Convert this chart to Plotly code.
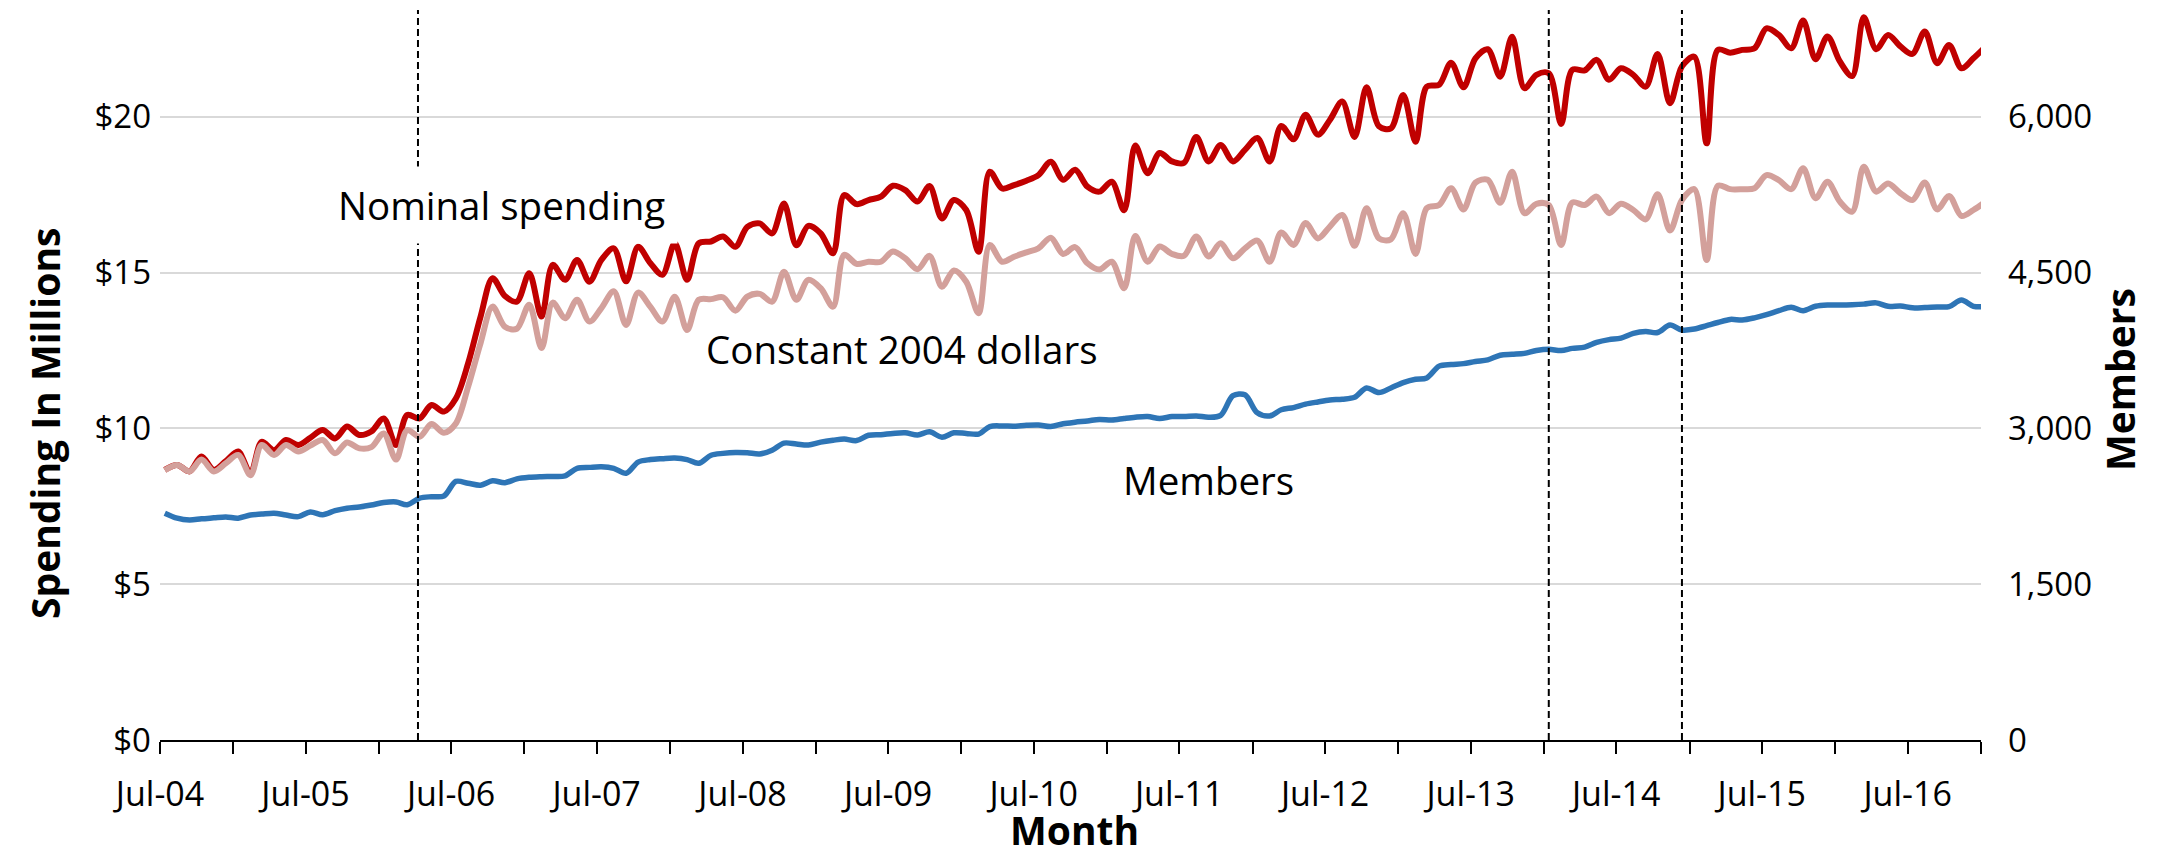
import plotly.graph_objects as go
import pandas as pd

#%% Data
# monthly points sit a little after the 1st of each month on the reference axis
months = pd.date_range("2004-07-01", periods=151, freq="MS") + pd.Timedelta(days=12)

nominal = [8.67, 8.83, 8.62, 9.10, 8.67, 8.95, 9.26, 8.56, 9.57, 9.30,
           9.63, 9.47, 9.70, 9.95, 9.68, 10.06, 9.79, 9.90, 10.32, 9.47,
           10.43, 10.32, 10.75, 10.54, 10.96, 12.10, 13.59, 14.82, 14.25, 14.07,
           14.98, 13.59, 15.25, 14.77, 15.41, 14.71, 15.41, 15.78, 14.72, 15.83,
           15.30, 14.93, 15.94, 14.77, 15.94, 16.00, 16.16, 15.83, 16.47, 16.58,
           16.26, 17.22, 15.88, 16.50, 16.26, 15.62, 17.49, 17.20, 17.33, 17.44,
           17.79, 17.65, 17.28, 17.78, 16.74, 17.33, 17.01, 15.67, 18.24, 17.70,
           17.81, 17.95, 18.13, 18.56, 17.98, 18.30, 17.76, 17.60, 17.92, 17.00,
           19.08, 18.19, 18.84, 18.57, 18.52, 19.35, 18.57, 19.10, 18.57, 18.94,
           19.32, 18.57, 19.71, 19.28, 20.07, 19.43, 19.90, 20.49, 19.35, 20.95,
           19.70, 19.63, 20.70, 19.20, 20.97, 21.03, 21.74, 20.95, 21.88, 22.17,
           21.29, 22.57, 20.92, 21.35, 21.40, 19.77, 21.51, 21.49, 21.83, 21.19,
           21.56, 21.35, 20.97, 22.02, 20.44, 21.62, 21.93, 19.15, 22.15, 22.06,
           22.15, 22.20, 22.84, 22.63, 22.20, 23.09, 21.85, 22.58, 21.78, 21.31,
           23.20, 22.17, 22.63, 22.26, 22.02, 22.74, 21.72, 22.31, 21.56, 21.88,
           22.26]

constant_2004 = [8.66, 8.83, 8.62, 9.00, 8.62, 8.88, 9.15, 8.50, 9.47, 9.15,
                 9.47, 9.26, 9.45, 9.63, 9.20, 9.55, 9.36, 9.40, 9.84, 9.00,
                 9.95, 9.73, 10.14, 9.86, 10.16, 11.35, 12.74, 13.91, 13.26, 13.20,
                 13.97, 12.58, 14.04, 13.54, 14.13, 13.43, 13.86, 14.40, 13.32, 14.36,
                 13.90, 13.43, 14.23, 13.16, 14.13, 14.15, 14.21, 13.78, 14.23, 14.32,
                 14.07, 15.03, 14.13, 14.77, 14.50, 13.91, 15.57, 15.28, 15.35, 15.35,
                 15.68, 15.46, 15.11, 15.54, 14.55, 15.07, 14.71, 13.70, 15.89, 15.35,
                 15.51, 15.65, 15.78, 16.12, 15.60, 15.82, 15.30, 15.10, 15.35, 14.50,
                 16.18, 15.35, 15.84, 15.60, 15.54, 16.16, 15.52, 15.94, 15.46, 15.78,
                 16.03, 15.35, 16.29, 15.89, 16.59, 16.10, 16.48, 16.85, 15.86, 17.07,
                 16.10, 16.07, 16.91, 15.60, 17.07, 17.17, 17.71, 17.03, 17.89, 17.98,
                 17.24, 18.24, 16.91, 17.21, 17.17, 15.89, 17.25, 17.17, 17.44, 16.91,
                 17.21, 17.01, 16.71, 17.52, 16.35, 17.33, 17.68, 15.41, 17.79, 17.68,
                 17.68, 17.71, 18.13, 17.97, 17.68, 18.35, 17.39, 17.92, 17.28, 16.96,
                 18.40, 17.60, 17.86, 17.55, 17.33, 17.89, 17.03, 17.46, 16.82, 17.01,
                 17.28]

members = [2184, 2136, 2118, 2130, 2139, 2148, 2136, 2166, 2175, 2184,
           2166, 2151, 2196, 2169, 2208, 2232, 2244, 2262, 2286, 2292,
           2265, 2328, 2343, 2349, 2490, 2472, 2454, 2496, 2478, 2514,
           2529, 2535, 2538, 2544, 2616, 2625, 2631, 2616, 2568, 2676,
           2700, 2709, 2715, 2700, 2664, 2742, 2760, 2769, 2766, 2754,
           2790, 2859, 2850, 2841, 2868, 2886, 2898, 2883, 2934, 2940,
           2952, 2958, 2937, 2967, 2916, 2958, 2952, 2946, 3018, 3024,
           3021, 3030, 3033, 3018, 3045, 3060, 3072, 3087, 3081, 3096,
           3108, 3114, 3096, 3114, 3114, 3120, 3108, 3126, 3315, 3324,
           3150, 3120, 3180, 3201, 3234, 3255, 3273, 3282, 3300, 3390,
           3345, 3390, 3441, 3474, 3486, 3600, 3615, 3624, 3645, 3660,
           3705, 3714, 3723, 3750, 3762, 3750, 3771, 3783, 3828, 3855,
           3870, 3915, 3933, 3924, 3996, 3948, 3957, 3990, 4020, 4050,
           4044, 4065, 4095, 4134, 4167, 4134, 4176, 4188, 4188, 4191,
           4197, 4209, 4176, 4179, 4161, 4164, 4170, 4173, 4236, 4176,
           4173]

event_dates = ["2006-04-09", "2014-01-13", "2014-12-13"]

tick_dates = pd.date_range("2004-07-01", "2016-07-01", freq="12MS")
tick_text = [d.strftime("%b-%y") for d in tick_dates]
left_ticks = [0, 5, 10, 15, 20]
left_text = ["$0", "$5", "$10", "$15", "$20"]
right_ticks = [0, 1500, 3000, 4500, 6000]
right_text = ["0", "1,500", "3,000", "4,500", "6,000"]

FONT = "Open Sans"

# plot area in page pixels (page body adds 8px offset)
PX0, PX1, PY0, PY1 = 160, 1981, 10, 740


def px(x):
    return (x - PX0) / (PX1 - PX0)


def py(y):
    return (PY1 - y) / (PY1 - PY0)


#%% Figure
fig = go.Figure()

fig.add_trace(go.Scatter(x=months, y=nominal, mode="lines", name="Nominal spending",
                         line=dict(color="#C00000", width=6, shape="spline", smoothing=0.9)))
fig.add_trace(go.Scatter(x=months, y=constant_2004, mode="lines", name="Constant 2004 dollars",
                         line=dict(color="#D3A09B", width=6, shape="spline", smoothing=0.9)))
fig.add_trace(go.Scatter(x=months, y=members, mode="lines", name="Members", yaxis="y2",
                         line=dict(color="#2E75B6", width=5.5, shape="spline", smoothing=0.9)))

#event markers
for d in event_dates:
    fig.add_shape(type="line", xref="x", yref="paper", x0=d, x1=d, y0=0, y1=1,
                  line=dict(color="black", width=2, dash="7px,4px"), layer="above")

#series labels
lab_font = dict(family=FONT, size=38.5, color="black")
fig.add_annotation(x=px(501), y=py(205), xref="paper", yref="paper", text="Nominal spending",
                   showarrow=False, bgcolor="white", borderpad=12,
                   xanchor="center", yanchor="middle", font=lab_font)
fig.add_annotation(x=px(902), y=py(349), xref="paper", yref="paper", text="Constant 2004 dollars",
                   showarrow=False, xanchor="center", yanchor="middle", font=lab_font)
fig.add_annotation(x=px(1208), y=py(480), xref="paper", yref="paper", text="Members",
                   showarrow=False, xanchor="center", yanchor="middle", font=lab_font)

#axis titles
ttl_font = dict(family=FONT, size=39, color="black")
fig.add_annotation(x=px(44), y=py(424), xref="paper", yref="paper",
                   text="<b>Spending In Millions</b>", textangle=-90, showarrow=False,
                   xanchor="center", yanchor="middle", font=ttl_font)
fig.add_annotation(x=px(2119), y=py(380), xref="paper", yref="paper",
                   text="<b>Members</b>", textangle=-90, showarrow=False,
                   xanchor="center", yanchor="middle", font=ttl_font)
fig.add_annotation(x=px(1074), y=py(829), xref="paper", yref="paper",
                   text="<b>Month</b>", showarrow=False,
                   xanchor="center", yanchor="middle", font=ttl_font)

fig.update_layout(
    width=2165, height=856,
    margin=dict(l=PX0 - 8, r=2165 - PX1 + 8, t=PY0 - 8, b=856 - PY1 + 8, autoexpand=False),
    paper_bgcolor="white", plot_bgcolor="white",
    showlegend=False,
    font=dict(family=FONT, size=34, color="black"),
    xaxis=dict(type="date", range=["2004-07-01", "2017-01-01"],
               tickvals=tick_dates, ticktext=tick_text,
               showline=True, linecolor="black", linewidth=2,
               ticks="outside", ticklen=12, tickwidth=1.5, tickcolor="black",
               minor=dict(dtick="M6", tick0="2004-07-01", ticks="outside",
                          ticklen=12, tickwidth=1.5, tickcolor="black"),
               showgrid=False, zeroline=False, ticklabelstandoff=11, automargin=False,
               tickfont=dict(family=FONT, size=34)),
    yaxis=dict(range=[0, 23.43], tickvals=left_ticks, ticktext=left_text,
               showgrid=True, gridcolor="#D9D9D9", gridwidth=1.5,
               zeroline=False, showline=False, ticks="", ticklabelstandoff=8,
               automargin=False, tickfont=dict(family=FONT, size=33)),
    yaxis2=dict(range=[0, 7029], tickvals=right_ticks, ticktext=right_text,
                overlaying="y", side="right", showgrid=False,
                zeroline=False, showline=False, ticks="", ticklabelstandoff=26,
                automargin=False, tickfont=dict(family=FONT, size=33)),
)

fig.write_html("out.html")
